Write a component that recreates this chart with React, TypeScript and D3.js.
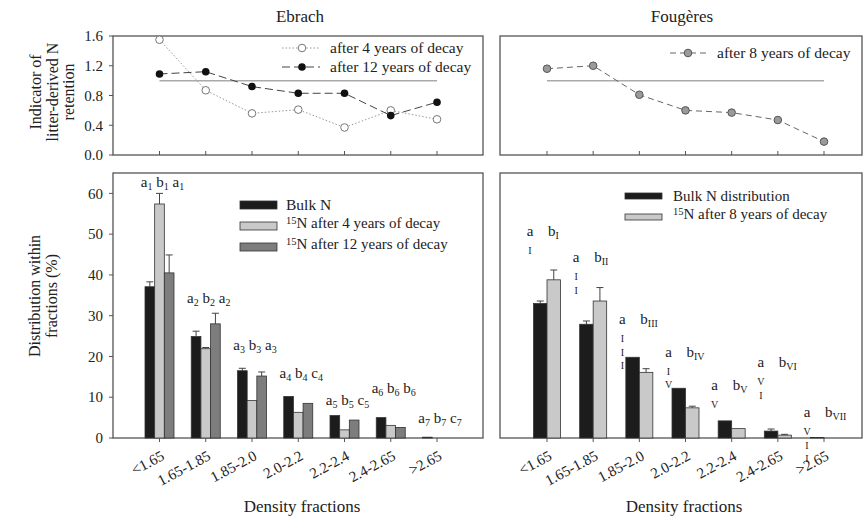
import React from 'react';
import * as d3 from 'd3';

const fractions = ['<1.65', '1.65-1.85', '1.85-2.0', '2.0-2.2', '2.2-2.4', '2.4-2.65', '>2.65'];

// top row: indicator of litter-derived N retention
const ebrach4yr = [1.55, 0.87, 0.56, 0.61, 0.37, 0.6, 0.48];
const ebrach12yr = [1.09, 1.12, 0.92, 0.83, 0.83, 0.53, 0.71];
const fougeres8yr = [1.16, 1.2, 0.81, 0.6, 0.57, 0.47, 0.18];
const retentionTicks = [0, 0.4, 0.8, 1.2, 1.6];
const referenceLevel = 1.0;

// bottom row: distribution within fractions (%)
const ebrachBulk = [37.1, 24.9, 16.5, 10.2, 5.5, 5.0, 0.2];
const ebrachBulkErr = [1.2, 1.3, 0.6, 0, 0, 0, 0];
const ebrach15N4yr = [57.4, 21.9, 9.2, 6.3, 2.0, 3.1, 0];
const ebrach15N4yrErr = [2.6, 0.3, 0, 0, 0, 0, 0];
const ebrach15N12yr = [40.5, 28.0, 15.2, 8.5, 4.4, 2.6, 0];
const ebrach15N12yrErr = [4.4, 2.6, 1.0, 0, 0, 0, 0];
const fougeresBulk = [33.0, 27.9, 19.8, 12.2, 4.2, 1.7, 0.1];
const fougeresBulkErr = [0.6, 0.8, 0, 0, 0, 0.5, 0];
const fougeres15N = [38.8, 33.6, 16.1, 7.4, 2.3, 0.7, 0];
const fougeres15NErr = [2.4, 3.3, 0.9, 0.4, 0, 0.2, 0];
const distributionTicks = [0, 10, 20, 30, 40, 50, 60];

// significance letters
const ebrachLetters = [['a', 'b', 'a'], ['a', 'b', 'a'], ['a', 'b', 'a'], ['a', 'b', 'c'], ['a', 'b', 'c'], ['a', 'b', 'b'], ['a', 'b', 'c']];
const ebrachLetterLevel = [61.5, 33, 21.6, 14.7, 8.1, 11, 3.7];
const fougeresRoman = ['I', 'II', 'III', 'IV', 'V', 'VI', 'VII'];
const fougeresLetterLevel = [49.5, 43.1, 27.9, 19.9, 11.8, 17.4, 5.1];

const FONT = "'Liberation Serif', 'DejaVu Serif', serif";
const W = 865;
const H = 518;

// panel frames
const left = { x0: 113, x1: 483, p0: 159.5, p1: 437 };
const right = { x0: 500, x1: 862, p0: 547, p1: 824 };
const topRow = { y0: 36, y1: 155 };
const botRow = { y0: 173, y1: 438 };

const yRet = d3.scaleLinear().domain([0, 1.6]).range([topRow.y1, topRow.y0]);
const yDist = d3.scaleLinear().domain([0, 65]).range([botRow.y1, botRow.y0]);
const xScale = (p: { p0: number; p1: number }) => d3.scalePoint<string>().domain(fractions).range([p.p0, p.p1]);
const xL = xScale(left);
const xR = xScale(right);

function Frame({ x0, x1, y0, y1 }: any) {
  return <rect x={x0} y={y0} width={x1 - x0} height={y1 - y0} fill="none" stroke="#555" strokeWidth={1.3} />;
}

function YAxis({ x, scale, ticks, fmt }: any) {
  return (
    <g>
      {ticks.map((t: number) => (
        <g key={t} transform={`translate(${x},${scale(t)})`}>
          <line x1={-4} x2={0} stroke="#555" />
          <text x={-10} dy="0.35em" textAnchor="end" fontSize={15}>{fmt(t)}</text>
        </g>
      ))}
    </g>
  );
}

function lineFor(x: d3.ScalePoint<string>) {
  return d3.line<number>().x((_, i) => x(fractions[i])!).y((d) => yRet(d));
}

function RetentionTicks({ x }: any) {
  return (
    <g>
      {fractions.map((f) => (
        <line key={f} x1={x(f)} x2={x(f)} y1={topRow.y1} y2={topRow.y1 - 4} stroke="#555" />
      ))}
      <line x1={x(fractions[0])} x2={x(fractions[6])} y1={yRet(referenceLevel)} y2={yRet(referenceLevel)} stroke="#aaa" strokeWidth={1.5} />
    </g>
  );
}

function Bars({ x, series, width }: any) {
  const sub = d3.scaleBand<number>().domain(d3.range(series.length)).range([-width / 2, width / 2]);
  return (
    <g>
      {series.map((s: any, si: number) =>
        s.values.map((v: number, i: number) => {
          const bx = x(fractions[i]) + sub(si)!;
          const bw = sub.bandwidth();
          const err = s.errors[i];
          return (
            <g key={`${si}-${i}`}>
              {err > 0 && (
                <g stroke="#444" strokeWidth={1}>
                  <line x1={bx + bw / 2} x2={bx + bw / 2} y1={yDist(v)} y2={yDist(v + err)} />
                  <line x1={bx + bw / 2 - 3.5} x2={bx + bw / 2 + 3.5} y1={yDist(v + err)} y2={yDist(v + err)} />
                </g>
              )}
              <rect x={bx} y={yDist(v)} width={bw} height={yDist(0) - yDist(v)} fill={s.color} stroke="#333" strokeWidth={0.8} />
            </g>
          );
        })
      )}
    </g>
  );
}

function XLabels({ x }: any) {
  return (
    <g>
      {fractions.map((f) => (
        <g key={f}>
          <line x1={x(f)} x2={x(f)} y1={botRow.y1} y2={botRow.y1 + 4} stroke="#555" />
          <text transform={`translate(${x(f) + 6},${botRow.y1 + 21}) rotate(-28)`} textAnchor="end" fontSize={15}>{f}</text>
        </g>
      ))}
    </g>
  );
}

function Sup15({ x, y, label }: any) {
  return (
    <text x={x} y={y} fontSize={15} dy="0.35em">
      <tspan fontSize={10.5} dy="-0.2em">15</tspan>
      <tspan dy="0.25em">{label}</tspan>
    </text>
  );
}

export default function App() {
  const ebrachSeries = [
    { values: ebrachBulk, errors: ebrachBulkErr, color: '#1c1c1c' },
    { values: ebrach15N4yr, errors: ebrach15N4yrErr, color: '#c9c9c9' },
    { values: ebrach15N12yr, errors: ebrach15N12yrErr, color: '#7d7d7d' },
  ];
  const fougeresSeries = [
    { values: fougeresBulk, errors: fougeresBulkErr, color: '#1c1c1c' },
    { values: fougeres15N, errors: fougeres15NErr, color: '#c9c9c9' },
  ];

  return (
    <svg width={W} height={H} style={{ position: 'absolute', left: 0, top: 0, background: '#fff', fontFamily: FONT }} fill="#222">
      {/* titles */}
      <text x={300} y={22} textAnchor="middle" fontSize={17}>Ebrach</text>
      <text x={682} y={22} textAnchor="middle" fontSize={17}>Fougères</text>

      {/* y axis titles */}
      <text transform="translate(0,92) rotate(-90)" textAnchor="middle" fontSize={16}>
        <tspan x={0} y={41}>Indicator of</tspan>
        <tspan x={0} y={58}>litter-derived N</tspan>
        <tspan x={0} y={74}>retention</tspan>
      </text>
      <text transform="translate(0,296) rotate(-90)" textAnchor="middle" fontSize={16}>
        <tspan x={0} y={40}>Distribution within</tspan>
        <tspan x={0} y={57}>fractions (%)</tspan>
      </text>

      {/* top left: Ebrach retention */}
      <Frame x0={left.x0} x1={left.x1} y0={topRow.y0} y1={topRow.y1} />
      <YAxis x={left.x0} scale={yRet} ticks={retentionTicks} fmt={(t: number) => t.toFixed(1)} />
      <RetentionTicks x={xL} />
      <path d={lineFor(xL)(ebrach4yr)!} fill="none" stroke="#999" strokeWidth={1} strokeDasharray="1.5,2" />
      <path d={lineFor(xL)(ebrach12yr)!} fill="none" stroke="#444" strokeWidth={1} strokeDasharray="8,4" />
      {ebrach4yr.map((v, i) => (
        <circle key={`o${i}`} cx={xL(fractions[i])} cy={yRet(v)} r={3.8} fill="#fff" stroke="#777" strokeWidth={1} />
      ))}
      {ebrach12yr.map((v, i) => (
        <circle key={`f${i}`} cx={xL(fractions[i])} cy={yRet(v)} r={3.8} fill="#111" />
      ))}
      <g>
        <line x1={282} x2={320} y1={48} y2={48} stroke="#999" strokeDasharray="1.5,2" />
        <circle cx={302} cy={48} r={3.8} fill="#fff" stroke="#777" />
        <text x={330} y={48} dy="0.35em" fontSize={15.5}>after 4 years of decay</text>
        <line x1={282} x2={320} y1={67} y2={67} stroke="#444" strokeDasharray="8,4" />
        <circle cx={302} cy={67} r={3.8} fill="#111" />
        <text x={330} y={67} dy="0.35em" fontSize={15.5}>after 12 years of decay</text>
      </g>

      {/* top right: Fougeres retention */}
      <Frame x0={right.x0} x1={right.x1} y0={topRow.y0} y1={topRow.y1} />
      <RetentionTicks x={xR} />
      <path d={lineFor(xR)(fougeres8yr)!} fill="none" stroke="#666" strokeWidth={1} strokeDasharray="6,4" />
      {fougeres8yr.map((v, i) => (
        <circle key={`g${i}`} cx={xR(fractions[i])} cy={yRet(v)} r={3.8} fill="#9a9a9a" stroke="#555" strokeWidth={1} />
      ))}
      <g>
        <line x1={670} x2={707} y1={53} y2={53} stroke="#666" strokeDasharray="6,4" />
        <circle cx={688} cy={53} r={3.8} fill="#9a9a9a" stroke="#555" />
        <text x={717} y={53} dy="0.35em" fontSize={15.5}>after 8 years of decay</text>
      </g>

      {/* bottom left: Ebrach distribution */}
      <Frame x0={left.x0} x1={left.x1} y0={botRow.y0} y1={botRow.y1} />
      <YAxis x={left.x0} scale={yDist} ticks={distributionTicks} fmt={(t: number) => String(t)} />
      <Bars x={xL} series={ebrachSeries} width={29} />
      <XLabels x={xL} />
      {ebrachLetters.map((ls, i) => (
        <text key={`el${i}`} x={xL(fractions[i])! + 3} y={yDist(ebrachLetterLevel[i])} textAnchor="middle" fontSize={15} style={{ whiteSpace: 'pre' }}>
          {ls.map((l, j) => (
            <React.Fragment key={j}>
              <tspan dy={j === 0 ? 0 : -3}>{(j ? ' ' : '') + l}</tspan>
              <tspan fontSize={10} dy={3}>{i + 1}</tspan>
            </React.Fragment>
          ))}
        </text>
      ))}
      <g>
        {ebrachSeries.map((s, i) => (
          <rect key={`lg${i}`} x={240} y={201 + i * 21} width={37} height={8} fill={s.color} stroke="#333" strokeWidth={0.8} />
        ))}
        <text x={286} y={205} dy="0.35em" fontSize={15.5}>Bulk N</text>
        <Sup15 x={286} y={226} label="N after 4 years of decay" />
        <Sup15 x={286} y={247} label="N after 12 years of decay" />
      </g>
      <text x={302} y={512} textAnchor="middle" fontSize={17}>Density fractions</text>

      {/* bottom right: Fougeres distribution */}
      <Frame x0={right.x0} x1={right.x1} y0={botRow.y0} y1={botRow.y1} />
      <Bars x={xR} series={fougeresSeries} width={27} />
      <XLabels x={xR} />
      {fougeresRoman.map((r, i) => {
        const cx = xR(fractions[i])!;
        const ly = yDist(fougeresLetterLevel[i]);
        return (
          <g key={`fr${i}`}>
            <text x={cx - 17} y={ly} textAnchor="middle" fontSize={15}>a</text>
            {r.split('').map((c, k) => (
              <text key={k} x={cx - 17} y={ly + 18 + k * 13.5} textAnchor="middle" fontSize={10}>{c}</text>
            ))}
            <text x={cx + 1} y={ly} fontSize={15}>
              b<tspan fontSize={10} dy={3}>{r}</tspan>
            </text>
          </g>
        );
      })}
      <g>
        {fougeresSeries.map((s, i) => (
          <rect key={`lr${i}`} x={625} y={193 + i * 21} width={37} height={6} fill={s.color} stroke="#333" strokeWidth={0.8} />
        ))}
        <text x={673} y={196} dy="0.35em" fontSize={15}>Bulk N distribution</text>
        <Sup15 x={673} y={217} label="N after 8 years of decay" />
      </g>
      <text x={684} y={512} textAnchor="middle" fontSize={17}>Density fractions</text>
    </svg>
  );
}
